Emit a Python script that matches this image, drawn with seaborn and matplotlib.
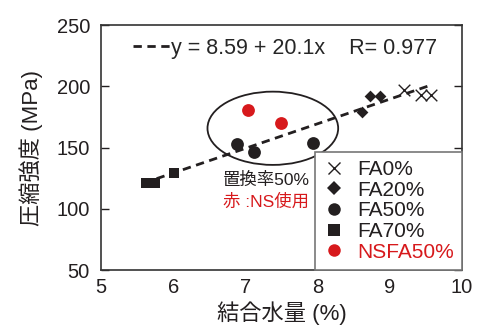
import numpy as np
import pandas as pd
import matplotlib
matplotlib.use("Agg")
import matplotlib.pyplot as plt
from matplotlib.patches import Ellipse
from matplotlib.lines import Line2D
import seaborn as sns

sns.set_style("white")
plt.rcParams['font.family'] = ['Liberation Sans', 'Noto Sans CJK JP', 'DejaVu Sans']

# data
fa0_x = [9.20, 9.43, 9.57]
fa0_y = [197, 193, 193]
fa20_x = [8.62, 8.72, 8.86]
fa20_y = [179, 192, 192]
fa50_x = [6.88, 7.12, 7.93]
fa50_y = [153, 146, 154]
fa70_x = [5.62, 5.75, 6.01]
fa70_y = [121, 121, 129]
nsfa50_x = [7.04, 7.49]
nsfa50_y = [181, 170]

# regression y = a + b x
fit_a = 8.59
fit_b = 20.1
fit_r = 0.977
fit_range = [5.77, 9.57]

red = '#d7191c'
ink = '#231f20'

fig = plt.figure(figsize=(4.78, 3.29), dpi=100)
ax = fig.add_axes([0.2113, 0.1793, 0.7552, 0.7447])

groups = [
    ('FA0%', fa0_x, fa0_y, 'x', ink, 70),
    ('FA20%', fa20_x, fa20_y, 'D', ink, 36),
    ('FA50%', fa50_x, fa50_y, 'o', ink, 85),
    ('FA70%', fa70_x, fa70_y, 's', ink, 45),
    ('NSFA50%', nsfa50_x, nsfa50_y, 'o', red, 85),
]

fx = np.array(fit_range)
line, = ax.plot(fx, fit_a + fit_b * fx, linestyle=(0, (3, 2)), color=ink, linewidth=2, zorder=2)

handles = []
for name, xs, ys, mk, col, s in groups:
    df = pd.DataFrame({'x': xs, 'y': ys})
    if mk == 'x':
        sns.scatterplot(data=df, x='x', y='y', marker='x', s=s, color=col,
                        linewidth=1.0, ax=ax, zorder=3)
    else:
        sns.scatterplot(data=df, x='x', y='y', marker=mk, s=s, color=col,
                        edgecolor=col, linewidth=0, ax=ax, zorder=3)
    handles.append(Line2D([], [], linestyle='none', marker=mk, color=col,
                          markersize=9 if mk != 'D' else 7, markeredgewidth=1.0 if mk == 'x' else 0,
                          label=name))

ax.add_patch(Ellipse((7.38, 165.7), 1.81, 59.8, fill=False, edgecolor=ink, linewidth=1.3, zorder=1))

ax.text(6.69, 123.5, '置換率50%', fontsize=12.5, color=ink, va='center', ha='left')
ax.text(6.69, 106.0, '赤 :NS使用', fontsize=12.5, color=red, va='center', ha='left')

leg1 = ax.legend([line], [f'y = {fit_a} + {fit_b}x    R= {fit_r}'], loc='upper center',
                 bbox_to_anchor=(0.51, 1.0), frameon=False, fontsize=15.5,
                 handlelength=1.75, handletextpad=0.0, borderaxespad=0.2)
ax.add_artist(leg1)

leg = ax.legend(handles=handles, loc='lower right', bbox_to_anchor=(1.0, 0.0),
                borderaxespad=0, fontsize=15, fancybox=False, edgecolor='#777777',
                framealpha=1, labelspacing=0.08, handletextpad=0.6, borderpad=0.4,
                handlelength=1.0)
leg.get_frame().set_linewidth(1.2)
for t in leg.get_texts():
    t.set_color(ink)
leg.get_texts()[-1].set_color(red)

ax.set_xlim(5, 10)
ax.set_ylim(50, 250)
ax.set_xticks([5, 6, 7, 8, 9, 10])
ax.set_yticks([50, 100, 150, 200, 250])
ax.tick_params(axis='y', direction='in', length=6, width=1, left=True, right=True,
               labelsize=14.5, pad=8, colors=ink)
ax.tick_params(axis='x', length=0, labelsize=14.5, pad=6, colors=ink)
for sp in ax.spines.values():
    sp.set_visible(True)
    sp.set_color('#333333')
    sp.set_linewidth(1.2)

ax.set_xlabel('結合水量 (%)', fontsize=16, color=ink, labelpad=3)
ax.set_ylabel('圧縮強度 (MPa)', fontsize=16, color=ink, labelpad=10)

fig.savefig('out.png', dpi=100)
